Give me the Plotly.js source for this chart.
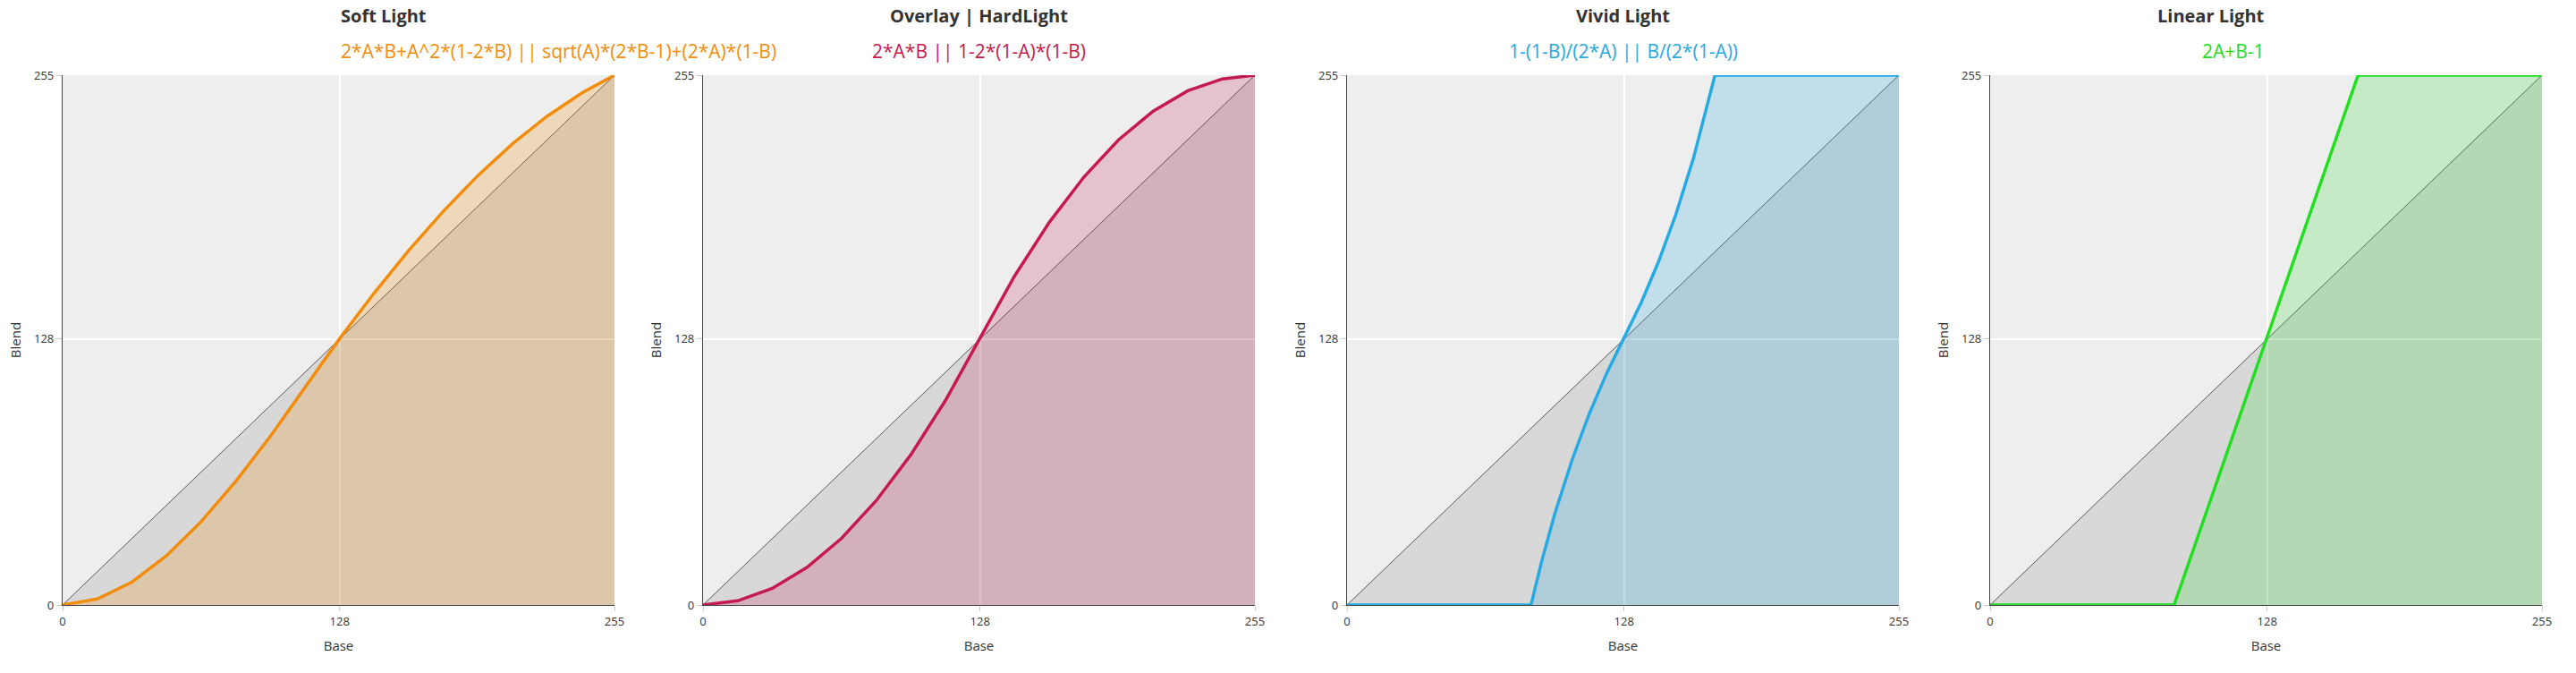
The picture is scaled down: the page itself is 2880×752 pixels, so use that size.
<!DOCTYPE html><html><head><script src="https://cdn.plot.ly/plotly-3.0.1.min.js"></script>
<style>body{margin:0}</style></head><body><div id="c" style="width:2880px;height:752px"></div><script>
const titles=["Soft Light","Overlay | HardLight","Vivid Light","Linear Light"];
const subtitles=["2*A*B+A^2*(1-2*B) || sqrt(A)*(2*B-1)+(2*A)*(1-B)","2*A*B || 1-2*(1-A)*(1-B)","1-(1-B)/(2*A) || B/(2*(1-A))","2A+B-1"];
const colors=["#f28c0c","#c41a50","#27a9e1","#22dd22"];
const fills=["rgba(242,140,12,0.22)","rgba(196,26,80,0.2)","rgba(39,169,225,0.22)","rgba(34,221,34,0.2)"];
const diagX=[0,255], diagY=[0,255];
const softX=[0,16,32,48,64,80,96,112,128,144,160,176,192,208,224,240,255];
const softY=[0,2.9,11.0,23.7,40.1,59.5,81.2,104.4,128.2,150.2,170.7,189.6,206.8,222.1,235.3,246.5,255];
const overX=[0,16,32,48,64,80,96,112,128,144,160,176,192,208,224,240,255];
const overY=[0,2.0,8.0,18.1,32.1,50.2,72.3,98.4,128.5,158.4,184.2,206.0,223.9,237.7,247.5,253.2,255];
const vividX=[0,85,90,96,104,112,120,128,136,144,152,160,170,255];
const vividY=[0,0,21.2,43.9,69.9,92.2,111.6,128.5,145.7,165.4,188.2,214.8,255,255];
const linX=[0,85,170,255];
const linY=[0,0,255,255];
const curves=[[softX,softY],[overX,overY],[vividX,vividY],[linX,linY]];
const lefts=[70,786,1506,2225], W=617;
const data=[],layout={width:2880,height:752,margin:{l:0,r:0,t:0,b:0},showlegend:false,paper_bgcolor:"#fff",
font:{family:"Open Sans",color:"#333"},annotations:[]};
curves.forEach((c,i)=>{
 const ax=i?String(i+1):"";
 data.push({x:diagX,y:diagY,xaxis:"x"+ax,yaxis:"y"+ax,mode:"lines",line:{color:"#333",width:0.8},fill:"tozeroy",fillcolor:"rgba(0,0,0,0.09)",hoverinfo:"skip"});
 data.push({x:c[0],y:c[1],xaxis:"x"+ax,yaxis:"y"+ax,mode:"lines",line:{color:colors[i],width:3.5},fill:"tozeroy",fillcolor:fills[i]});
 const d=[lefts[i]/2880,(lefts[i]+W)/2880];
 const common={range:[0,255],tickvals:[0,128,255],ticktext:["0","128","255"],showgrid:true,gridcolor:"#fff",gridwidth:1.5,zeroline:false,
  showline:true,linecolor:"#444",linewidth:1.2,ticks:"outside",ticklen:6,tickcolor:"#ccc",tickfont:{size:13,color:"#333"},fixedrange:true};
 layout["xaxis"+ax]=Object.assign({},common,{domain:d,anchor:"y"+ax,title:{text:"Base",font:{size:15},standoff:14}});
 layout["yaxis"+ax]=Object.assign({},common,{domain:[1-676/752,1-84/752],anchor:"x"+ax,title:{text:"Blend",font:{size:15},standoff:10}});
 layout["xaxis"+ax].range=[0,255];
 const cx=(d[0]+d[1])/2;
 layout.annotations.push({xref:"paper",yref:"paper",x:cx,y:1-18/752,text:"<b>"+titles[i]+"</b>",showarrow:false,font:{size:20,color:"#333"},yanchor:"middle"});
 layout.annotations.push({xref:"paper",yref:"paper",x:cx,y:1-57/752,text:subtitles[i],showarrow:false,font:{size:21,color:colors[i]},yanchor:"middle"});
});
layout.plot_bgcolor="#eeeeee";
Plotly.newPlot("c",data,layout,{displayModeBar:false});
</script></body></html>
